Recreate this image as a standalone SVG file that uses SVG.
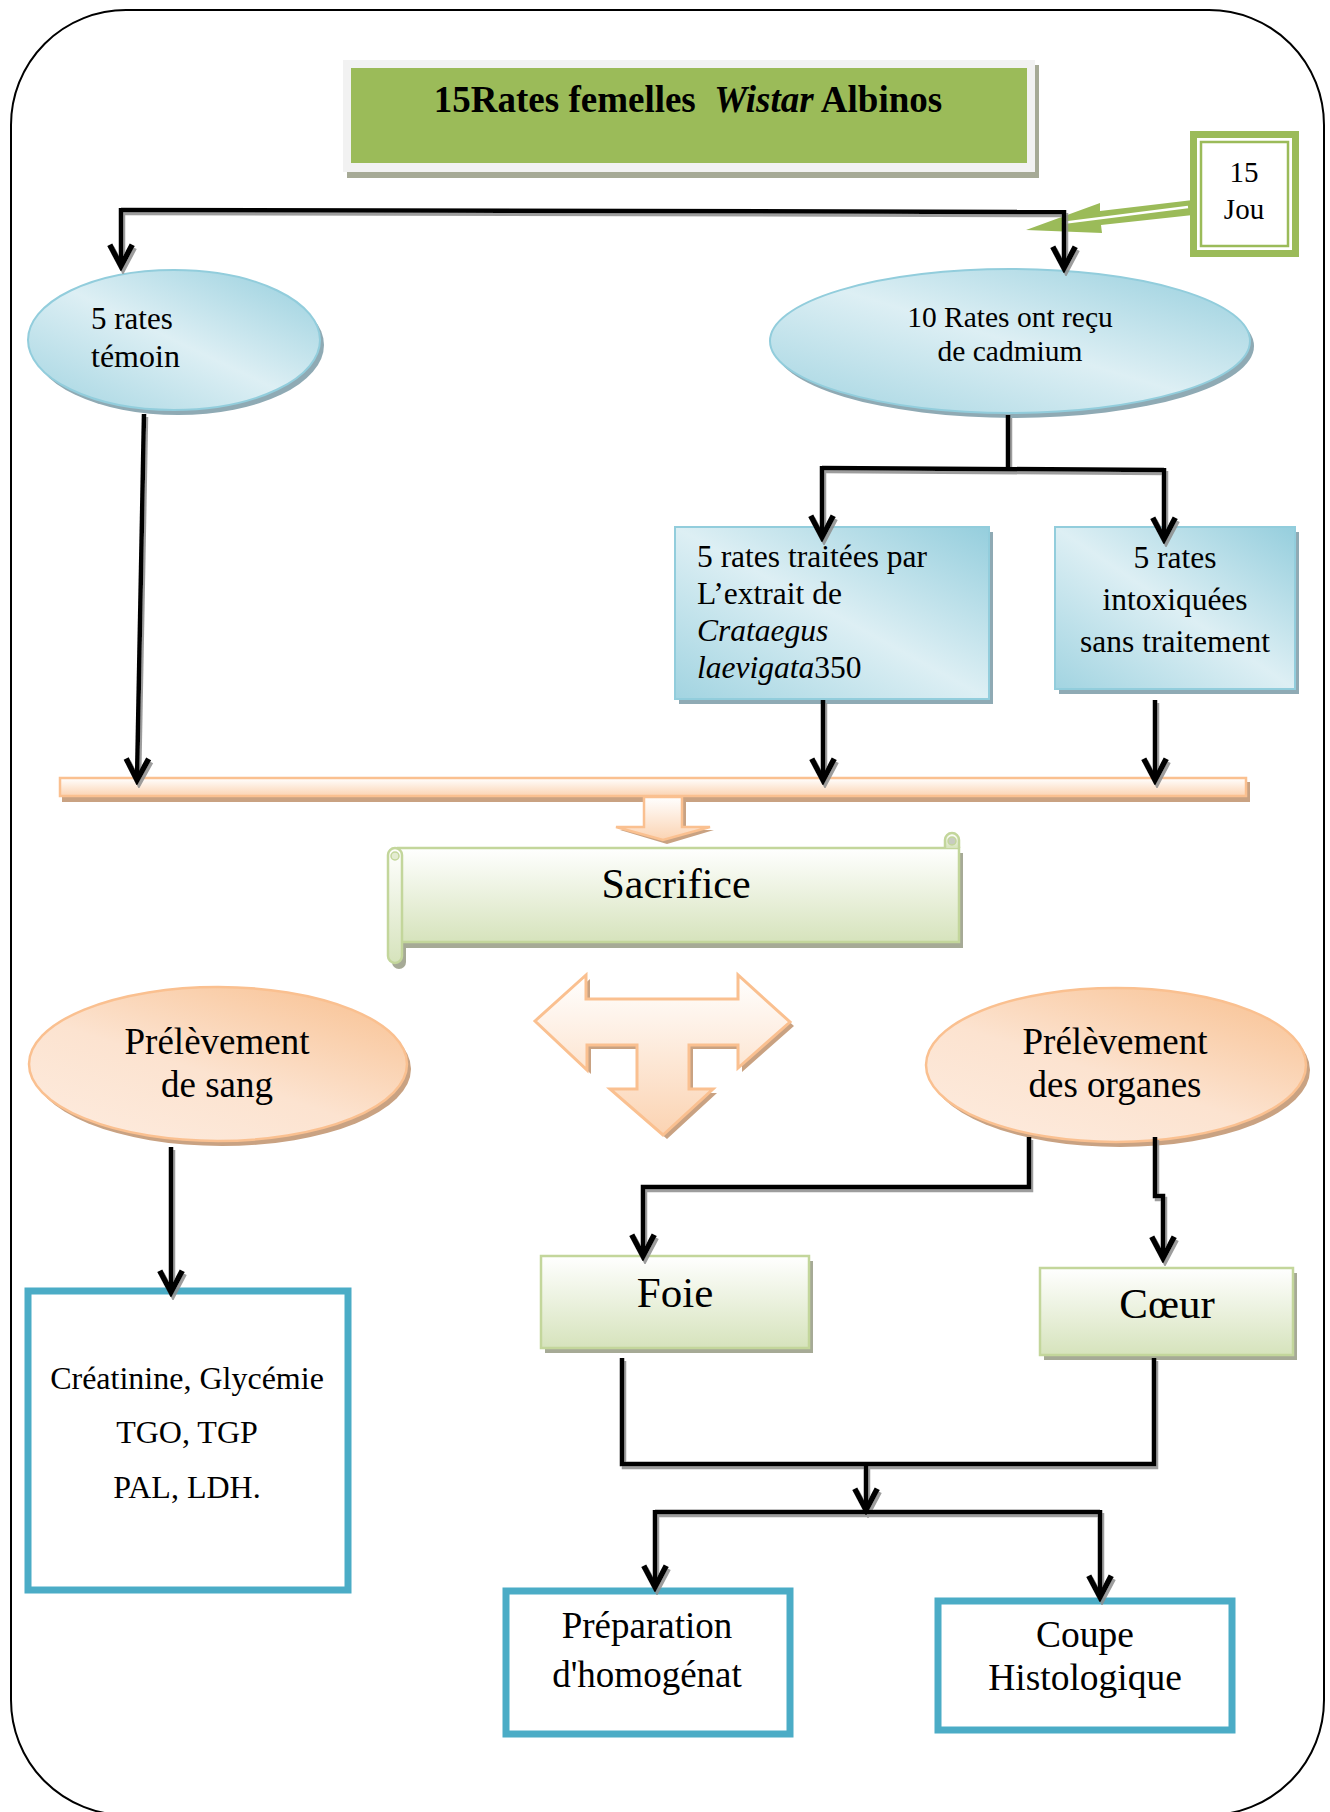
<svg xmlns="http://www.w3.org/2000/svg" width="1330" height="1812" viewBox="0 0 1330 1812">
<style>
text{font-family:"Liberation Serif","Times New Roman",serif;fill:#000}
.blue{fill:url(#blueG);stroke:#92CDDC;stroke-width:2}
.bsh{fill:#8FAAB4}
.peach{fill:url(#peachG);stroke:#FAC090;stroke-width:2.5}
.psh{fill:#C9A282}
.green{fill:url(#greenV);stroke:#C3D69B;stroke-width:2.5}
.gsh{fill:#A6AA96}
.teal{fill:#fff;stroke:#4BACC6;stroke-width:7}
.con{fill:none;stroke:#000;stroke-width:4.5;stroke-linejoin:miter}
.arr{marker-end:url(#ah)}
</style>
<defs>
<linearGradient id="blueG" x1="0" y1="1" x2="1" y2="0">
<stop offset="0" stop-color="#A2D4E1"/><stop offset="0.5" stop-color="#DDEFF4"/><stop offset="1" stop-color="#95CEDD"/>
</linearGradient>
<linearGradient id="peachG" x1="1" y1="0" x2="0.2" y2="1">
<stop offset="0" stop-color="#F8BF8E"/><stop offset="0.6" stop-color="#FCE3D0"/><stop offset="1" stop-color="#FDEADC"/>
</linearGradient>
<linearGradient id="peachV" x1="0" y1="0" x2="0" y2="1">
<stop offset="0" stop-color="#FFFFFF"/><stop offset="1" stop-color="#FBD3B2"/>
</linearGradient>
<linearGradient id="greenV" x1="0" y1="0" x2="0" y2="1">
<stop offset="0" stop-color="#FFFFFF"/><stop offset="1" stop-color="#D6E3BC"/>
</linearGradient>
<filter id="lsh" x="-10%" y="-10%" width="130%" height="130%">
<feDropShadow dx="2" dy="3" stdDeviation="0.6" flood-color="#8C8C8C" flood-opacity="0.85"/>
</filter>
<marker id="ah" markerUnits="userSpaceOnUse" markerWidth="30" markerHeight="30" viewBox="-20 -12 24 24" refX="0" refY="0" orient="auto">
<path d="M-17,-9 L0,0 L-17,9" fill="none" stroke="#000" stroke-width="4.5"/>
</marker>
</defs>

<rect x="11" y="10" width="1313" height="1805" rx="115" ry="115" fill="#fff" stroke="#000" stroke-width="2"/>

<g id="title">
<rect x="347" y="65" width="692" height="113" fill="#A6AA96"/>
<rect x="343" y="60" width="692" height="112" fill="#F2F2F2"/>
<rect x="351" y="68" width="676" height="95" fill="#9BBB59"/>
<text x="688" y="112" text-anchor="middle" font-weight="bold" font-size="37" style="white-space:pre">15Rates femelles  <tspan font-style="italic">Wistar</tspan> Albinos</text>
</g>

<g id="jou">
<rect x="1190" y="131" width="109" height="126" fill="#9BBB59"/>
<rect x="1197" y="138" width="95" height="112" fill="#fff"/>
<rect x="1201" y="142" width="87" height="104" fill="#fff" stroke="#9BBB59" stroke-width="2.5"/>
<text x="1244" y="182" text-anchor="middle" font-size="29">15</text>
<text x="1244" y="219" text-anchor="middle" font-size="29">Jou</text>
<polygon points="1193,200 1100,211 1100,203 1026,230 1102,233 1101,225 1193,215" fill="#9BBB59"/>
<line x1="1188" y1="207" x2="1062" y2="223" stroke="#fff" stroke-width="2.5"/>
</g>

<g id="temoin">
<ellipse cx="178" cy="345" rx="146" ry="70" class="bsh"/>
<ellipse cx="174" cy="340" rx="146" ry="70" class="blue"/>
<text x="91" y="329" font-size="31">5 rates</text>
<text x="91" y="367" font-size="32">témoin</text>
</g>

<g id="cadmium">
<ellipse cx="1014" cy="346" rx="240" ry="72" class="bsh"/>
<ellipse cx="1010" cy="341" rx="240" ry="72" class="blue"/>
<text x="1010" y="327" text-anchor="middle" font-size="29.5">10 Rates ont reçu</text>
<text x="1010" y="361" text-anchor="middle" font-size="29.5">de cadmium</text>
</g>

<g id="traitees">
<rect x="679" y="532" width="314" height="172" class="bsh"/>
<rect x="675" y="527" width="314" height="172" class="blue"/>
<text x="697" y="567" font-size="31.5">5 rates traitées par</text>
<text x="697" y="604" font-size="31.5">L’extrait de</text>
<text x="697" y="641" font-size="31.5" font-style="italic">Crataegus</text>
<text x="697" y="678" font-size="31.5"><tspan font-style="italic">laevigata</tspan>350</text>
</g>

<g id="intoxiquees">
<rect x="1059" y="532" width="240" height="162" class="bsh"/>
<rect x="1055" y="527" width="240" height="162" class="blue"/>
<text x="1175" y="568" text-anchor="middle" font-size="31.5">5 rates</text>
<text x="1175" y="610" text-anchor="middle" font-size="31.5">intoxiquées</text>
<text x="1175" y="652" text-anchor="middle" font-size="31.5">sans traitement</text>
</g>

<g id="bar">
<rect x="62" y="782" width="1188" height="20" class="psh"/>
<rect x="60" y="778" width="1186" height="18" fill="url(#peachV)" stroke="#FAC090" stroke-width="2.5"/>
<polygon points="647,800 686,800 686,830 714,830 667,844 620,830 647,830" class="psh"/>
<polygon points="644,797 682,797 682,827 710,827 663,840 616,827 644,827" fill="url(#peachV)" stroke="#FAC090" stroke-width="2.5"/>
</g>

<g id="sacrifice">
<rect x="392" y="853" width="571" height="95" class="gsh"/>
<path d="M392,860 L392,962 a7,7 0 0 0 14,0 L406,948 Z" class="gsh"/>
<rect x="398" y="848" width="561" height="94" class="green"/>
<path d="M388,855 a7,7 0 0 1 14,0 L402,956 a7,7 0 0 1 -14,0 Z" class="green"/>
<circle cx="395" cy="856" r="4" fill="#E4ECD2" stroke="#C3D69B" stroke-width="1.5"/>
<path d="M945,848 L945,840 a7,7 0 0 1 14,0 L959,848" class="green"/>
<circle cx="952" cy="841" r="4" fill="#C8CCC0" stroke="#C3D69B" stroke-width="1.5"/>
<text x="676" y="898" text-anchor="middle" font-size="42">Sacrifice</text>
</g>

<g id="cross">
<polygon points="539,1025 590,979 590,1003 742,1003 742,979 794,1026 742,1072 742,1049 693,1049 693,1093 717,1093 667,1139 614,1093 641,1093 641,1049 591,1049 591,1074" class="psh"/>
<polygon points="535,1021 586,975 586,999 738,999 738,975 790,1022 738,1068 738,1045 689,1045 689,1089 713,1089 663,1135 610,1089 637,1089 637,1045 587,1045 587,1070" fill="url(#peachV)" stroke="#FAC090" stroke-width="3"/>
</g>

<g id="sang">
<ellipse cx="222" cy="1069" rx="189" ry="77" class="psh"/>
<ellipse cx="218" cy="1064" rx="189" ry="77" class="peach"/>
<text x="217" y="1054" text-anchor="middle" font-size="37">Prélèvement</text>
<text x="217" y="1097" text-anchor="middle" font-size="37">de sang</text>
</g>

<g id="organes">
<ellipse cx="1120" cy="1070" rx="190" ry="77" class="psh"/>
<ellipse cx="1116" cy="1065" rx="190" ry="77" class="peach"/>
<text x="1115" y="1054" text-anchor="middle" font-size="37">Prélèvement</text>
<text x="1115" y="1097" text-anchor="middle" font-size="37">des organes</text>
</g>

<g id="analyses">
<rect x="28" y="1291" width="320" height="299" class="teal"/>
<text x="187" y="1389" text-anchor="middle" font-size="32">Créatinine, Glycémie</text>
<text x="187" y="1443" text-anchor="middle" font-size="32">TGO, TGP</text>
<text x="187" y="1498" text-anchor="middle" font-size="32">PAL, LDH.</text>
</g>

<g id="foie">
<rect x="545" y="1261" width="268" height="92" class="gsh"/>
<rect x="541" y="1256" width="268" height="92" class="green"/>
<text x="675" y="1307" text-anchor="middle" font-size="43">Foie</text>
</g>

<g id="coeur">
<rect x="1044" y="1273" width="253" height="87" class="gsh"/>
<rect x="1040" y="1268" width="253" height="87" class="green"/>
<text x="1167" y="1318" text-anchor="middle" font-size="43">Cœur</text>
</g>

<g id="homogenat">
<rect x="506" y="1591" width="284" height="143" class="teal"/>
<text x="647" y="1638" text-anchor="middle" font-size="37">Préparation</text>
<text x="647" y="1687" text-anchor="middle" font-size="37">d'homogénat</text>
</g>

<g id="histologique">
<rect x="938" y="1601" width="294" height="129" class="teal"/>
<text x="1085" y="1647" text-anchor="middle" font-size="37.5">Coupe</text>
<text x="1085" y="1690" text-anchor="middle" font-size="37.5">Histologique</text>
</g>

<g id="connectors" filter="url(#lsh)">
<path class="con" d="M121,210 L1064,212"/>
<path class="con arr" d="M121,208 L121,266"/>
<path class="con arr" d="M1064,210 L1064,268"/>
<path class="con arr" d="M144,414 L137,780"/>
<path class="con" d="M1008,415 L1008,468"/>
<path class="con" d="M822,468 L1164,470"/>
<path class="con arr" d="M822,466 L822,537"/>
<path class="con arr" d="M1164,468 L1164,539"/>
<path class="con arr" d="M823,700 L823,780"/>
<path class="con arr" d="M1155,700 L1155,780"/>
<path class="con arr" d="M171,1147 L171,1292"/>
<path class="con arr" d="M1029,1137 L1029,1187 L643,1187 L643,1256"/>
<path class="con arr" d="M1155,1137 L1155,1196 L1163,1196 L1163,1258"/>
<path class="con" d="M622,1358 L622,1464 L1154,1464 L1154,1358"/>
<path class="con arr" d="M866,1464 L866,1510"/>
<path class="con" d="M655,1512 L1100,1512"/>
<path class="con arr" d="M655,1510 L655,1587"/>
<path class="con arr" d="M1100,1510 L1100,1597"/>
</g>
</svg>
